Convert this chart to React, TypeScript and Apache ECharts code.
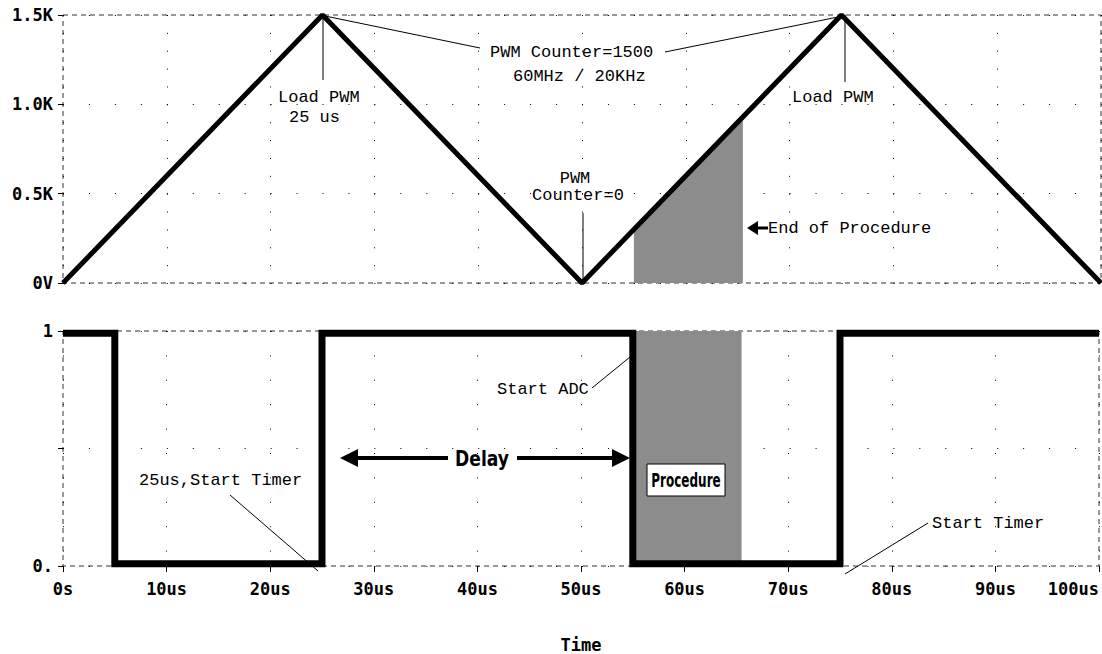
import React, { useEffect, useRef } from "react";
import * as echarts from "echarts";

// ---- data ----
const TRI_TIME = [0, 25, 50, 75, 100];
const TRI_COUNTER = [0, 1500, 0, 1500, 0];
const SIG_TIME = [0, 5, 5, 25, 25, 55, 55, 75, 75, 100];
const SIG_VALUE = [0.99, 0.99, 0.01, 0.01, 0.99, 0.99, 0.01, 0.01, 0.99, 0.99];
const PROC_TIME = [55, 65.5];
const PROC_COUNTER = [300, 930];
const PROC_SIGNAL = [1, 1];
const X_LABELS: Record<number, string> = { 0: "0s", 10: "10us", 20: "20us", 30: "30us", 40: "40us", 50: "50us", 60: "60us", 70: "70us", 80: "80us", 90: "90us", 100: "100us" };
const Y_TOP_LABELS: Record<number, string> = { 0: "0V", 500: "0.5K", 1000: "1.0K", 1500: "1.5K" };
const Y_BOT_LABELS: Record<number, string> = { 0: "0.", 0.5: "", 1: "1" };

const zip = (a: number[], b: number[]) => a.map((v, i) => [v, b[i]]);

const THIN = "17px 'Liberation Mono', monospace";

function txt(text: string, x: number, y: number, font = THIN, align = "left") {
  return { type: "text", z: 100, style: { text, x, y, font, fill: "#000", textAlign: align, textVerticalAlign: "middle" } };
}
function ln(x1: number, y1: number, x2: number, y2: number) {
  return { type: "line", z: 100, shape: { x1, y1, x2, y2 }, style: { stroke: "#000", lineWidth: 1 } };
}
function poly(points: number[][]) {
  return { type: "polygon", z: 100, shape: { points }, style: { fill: "#000" } };
}
function bar(x: number, y: number, w: number, h: number) {
  return { type: "rect", z: 100, shape: { x, y, width: w, height: h }, style: { fill: "#000" } };
}

export default function App() {
  const ref = useRef<HTMLDivElement>(null);
  useEffect(() => {
    if (!ref.current) return;
    const chart = echarts.init(ref.current, null, { renderer: "svg" });
    const border = { show: true, borderColor: "#333", borderWidth: 1, borderType: [5, 4], backgroundColor: "transparent" };
    const axisFont = { fontFamily: "'DejaVu Sans Mono', monospace", fontWeight: "bold", fontSize: 17, color: "#000" };
    chart.setOption({
      animation: false,
      backgroundColor: "#fff",
      grid: [
        { left: 63, right: 1, top: 15, height: 268, ...border },
        { left: 63, right: 1, top: 331, height: 244, ...border },
      ],
      xAxis: [
        {
          gridIndex: 0, type: "value", min: 0, max: 100, interval: 10,
          axisLine: { show: false }, axisTick: { show: false }, axisLabel: { show: false },
          splitLine: { show: true, lineStyle: { color: "#000", width: 1, type: [1, 16.87] } },
        },
        {
          gridIndex: 1, type: "value", min: 0, max: 100, interval: 10,
          axisLine: { show: false },
          axisTick: { show: true, length: 6, lineStyle: { color: "#000" } },
          axisLabel: { ...axisFont, margin: 14, alignMaxLabel: "right", formatter: (v: number) => X_LABELS[v] ?? "" },
          splitLine: { show: true, lineStyle: { color: "#000", width: 1, type: [1, 23.4] } },
          name: "Time", nameLocation: "middle", nameGap: 70,
          nameTextStyle: { ...axisFont },
        },
      ],
      yAxis: [
        {
          gridIndex: 0, type: "value", min: 0, max: 1500, interval: 500,
          axisLine: { show: false },
          axisTick: { show: true, length: 5, lineStyle: { color: "#000" } },
          axisLabel: { ...axisFont, margin: 10, formatter: (v: number) => Y_TOP_LABELS[v] ?? "" },
          splitLine: { show: true, lineStyle: { color: "#000", width: 1, type: [1, 24.95] } },
        },
        {
          gridIndex: 1, type: "value", min: 0, max: 1, interval: 0.5,
          axisLine: { show: false },
          axisTick: { show: true, length: 5, lineStyle: { color: "#000" } },
          axisLabel: { ...axisFont, margin: 10, formatter: (v: number) => Y_BOT_LABELS[v] ?? "" },
          splitLine: { show: true, lineStyle: { color: "#000", width: 1, type: [1, 24.95] } },
        },
      ],
      series: [
        {
          type: "line", xAxisIndex: 0, yAxisIndex: 0, data: zip(PROC_TIME, PROC_COUNTER),
          symbol: "none", lineStyle: { width: 0 }, areaStyle: { color: "#8c8c8c", opacity: 1 }, z: 2,
        },
        {
          type: "line", xAxisIndex: 0, yAxisIndex: 0, data: zip(TRI_TIME, TRI_COUNTER),
          symbol: "none", lineStyle: { width: 5, color: "#000" }, z: 3,
        },
        {
          type: "line", xAxisIndex: 1, yAxisIndex: 1, data: zip(PROC_TIME, PROC_SIGNAL),
          symbol: "none", lineStyle: { width: 0 }, areaStyle: { color: "#8c8c8c", opacity: 1 }, z: 2,
        },
        {
          type: "line", xAxisIndex: 1, yAxisIndex: 1, data: zip(SIG_TIME, SIG_VALUE),
          symbol: "none", lineStyle: { width: 7, color: "#000", join: "miter" }, z: 3,
        },
      ],
      graphic: [
        // top annotations
        ln(323, 15, 323, 80),
        txt("Load PWM", 278, 97),
        txt("25 us", 289, 117),
        ln(325, 16, 480, 48),
        txt("PWM Counter=1500", 490, 52),
        txt("60MHz / 20KHz", 513, 76),
        ln(665, 52, 843, 16),
        ln(845, 15, 845, 82),
        txt("Load PWM", 792, 97),
        txt("PWM", 575, 178, THIN, "center"),
        txt("Counter=0", 578, 195, THIN, "center"),
        ln(583, 213, 583, 283),
        poly([[747, 228], [758, 221], [758, 235]]),
        bar(757, 226.5, 11, 3),
        txt("End of Procedure", 768, 228),
        // bottom annotations
        txt("Start ADC", 497, 389),
        ln(592, 388, 630, 357),
        poly([[340, 458], [358, 449], [358, 467]]),
        bar(357, 456, 91, 4),
        {
          type: "text", z: 100, x: 482, y: 459, scaleX: 0.78,
          style: { text: "Delay", x: 0, y: 0, font: "bold 22px 'DejaVu Sans', sans-serif", fill: "#000", textAlign: "center", textVerticalAlign: "middle" },
        },
        bar(517, 456, 97, 4),
        poly([[630, 458], [612, 449], [612, 467]]),
        { type: "rect", z: 100, shape: { x: 647, y: 464, width: 78, height: 32 }, style: { fill: "#fff", stroke: "#000", lineWidth: 1 } },
        {
          type: "text", z: 101, x: 686, y: 480, scaleX: 0.6,
          style: { text: "Procedure", x: 0, y: 0, font: "bold 20px 'DejaVu Sans', sans-serif", fill: "#000", textAlign: "center", textVerticalAlign: "middle" },
        },
        txt("25us,Start Timer", 139, 480),
        ln(230, 495, 318, 571),
        txt("Start Timer", 932, 523),
        ln(845, 574, 928, 523),
      ],
    });
    return () => chart.dispose();
  }, []);
  return (
    <div
      ref={ref}
      style={{ position: "fixed", left: 0, top: 0, width: 1102, height: 654, background: "#fff" }}
    />
  );
}
